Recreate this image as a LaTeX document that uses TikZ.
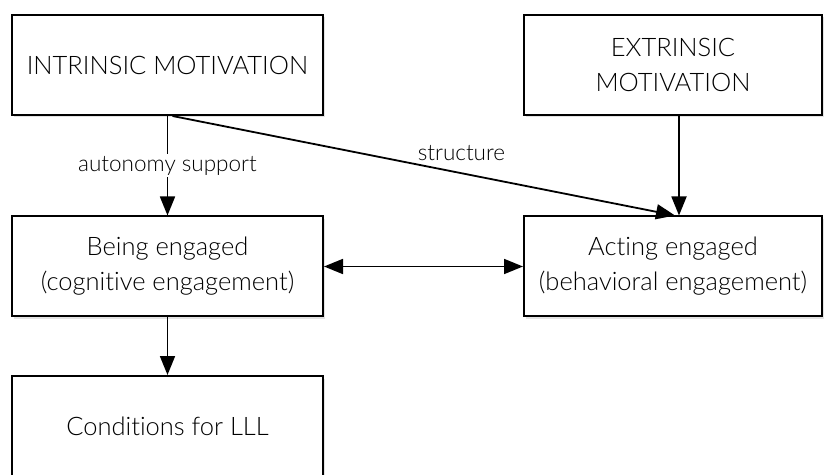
\documentclass[tikz,border=0pt]{standalone}
\usepackage{fontspec}
\IfFontExistsTF{Lato Light}{\setmainfont{Lato Light}[Ligatures={NoCommon,NoRare}]}{\setmainfont{Lato}[Ligatures={NoCommon,NoRare}]}
\usetikzlibrary{arrows.meta,shadows,calc}
\tikzset{
  box/.style={draw=black, line width=2pt, fill=white, minimum height=100pt, align=center,
    inner sep=0pt, font=\fontsize{25.5}{35}\selectfont,
    drop shadow={opacity=0.22, shadow xshift=1.5pt, shadow yshift=-2.5pt}},
  conn/.style={line width=1.8pt, -{Triangle[length=19pt,width=15pt]}},
  lbl/.style={font=\fontsize{22.5}{26}\selectfont, inner sep=2pt}
}
\begin{document}
\begin{tikzpicture}[x=1pt,y=1pt]
\useasboundingbox (0,0) rectangle (824,474);
\clip (0,0) rectangle (824,474);
\node[box, minimum width=311pt] (intr) at (167.5,409) {INTRINSIC MOTIVATION};
\node[box, minimum width=298pt] (extr) at (673,409) {EXTRINSIC\\MOTIVATION};
\node[box, minimum width=311pt] (being) at (167.5,207.5) {Being engaged\\(cognitive engagement)};
\node[box, minimum width=298pt] (acting) at (673,207.5) {Acting engaged\\(behavioral engagement)};
\node[box, minimum width=311pt] (cond) at (167.5,48) {Conditions for LLL};
\draw[conn] (intr.south) -- node[lbl, fill=white, midway] (autlbl) {autonomy support} (being.north);
\draw[conn] ($(intr.south)+(5,0)$) -- node[lbl, pos=0.575, yshift=20pt] (strlbl) {structure} ($(acting.north)+(2,0)$);
\draw[conn] ($(extr.south)+(6,0)$) -- ($(acting.north)+(6,0)$);
\draw[line width=1.8pt, {Triangle[length=19pt,width=15pt]}-{Triangle[length=19pt,width=15pt]}] (being.east) -- (acting.west);
\draw[conn] (being.south) -- (cond.north);
\end{tikzpicture}
\end{document}
